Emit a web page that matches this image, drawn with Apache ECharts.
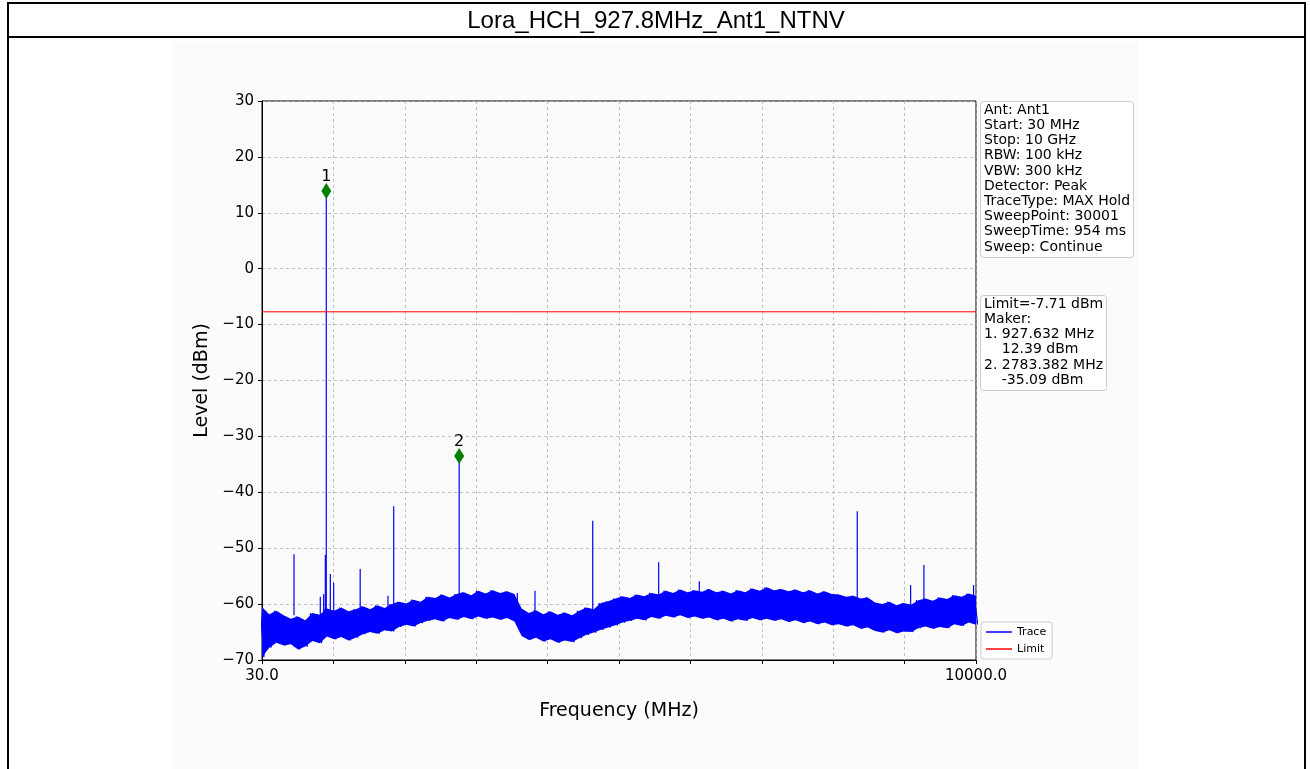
<!DOCTYPE html>
<html>
<head>
<meta charset="utf-8">
<title>Lora_HCH_927.8MHz_Ant1_NTNV</title>
<script src="https://cdn.jsdelivr.net/npm/echarts@6/dist/echarts.min.js"></script>
<style>
    html, body { margin: 0; padding: 0; background: #fff; }
    #main { width: 1310px; height: 769px; }
</style>
</head>
<body>
<div id="main"></div>
<script>
var chartTitle = 'Lora_HCH_927.8MHz_Ant1_NTNV';
var startFreq = 30, stopFreq = 10000;   // MHz
var limitLevel = -7.71;                 // dBm

// noise floor, upper and lower edge of the trace band (dBm), read every ~100 MHz
var bandTop = [
    -60.5, -61.8, -61.2, -62.0, -62.6, -62.2, -62.9, -61.6, -61.9, -60.8,
    -61.2, -60.6, -61.3, -60.9, -60.4, -60.9, -60.2, -60.7, -60.0, -59.6,
    -59.9, -59.2, -59.6, -58.7, -58.9, -58.3, -58.8, -58.2, -57.9, -58.4,
    -57.6, -58.1, -57.5, -58.0, -57.7, -58.2, -60.8, -61.6, -61.1, -61.8,
    -61.3, -61.9, -61.5, -62.0, -61.2, -60.6, -60.9, -59.8, -59.5, -59.0,
    -58.6, -58.9, -58.3, -58.6, -58.0, -58.3, -57.6, -58.0, -57.4, -57.9,
    -57.5, -57.8, -57.3, -57.9, -57.6, -58.1, -57.5, -57.9, -57.2, -57.6,
    -57.0, -57.5, -57.3, -57.7, -57.4, -57.9, -57.5, -58.1, -57.7, -58.2,
    -58.3, -58.7, -58.5, -59.0, -58.8, -59.7, -60.0, -59.6, -60.2, -59.8,
    -60.1, -59.3, -59.0, -59.4, -58.8, -59.1, -58.4, -58.7, -58.1, -58.5
];
var bandBottom = [
    -69.5, -67.8, -66.9, -67.4, -67.2, -68.1, -67.6, -66.6, -67.0, -65.8,
    -66.3, -65.9, -66.5, -66.0, -65.4, -65.0, -65.3, -64.7, -64.9, -64.1,
    -63.7, -64.0, -63.4, -63.0, -62.7, -63.1, -62.5, -62.8, -62.3, -62.7,
    -62.2, -62.6, -62.4, -62.8, -62.5, -63.1, -65.7, -66.4, -66.0, -66.7,
    -66.3, -66.9, -66.5, -66.8, -66.1, -65.5, -65.1, -64.6, -64.2, -63.8,
    -63.3, -63.0, -62.6, -62.9, -62.3, -62.6, -62.1, -62.4, -62.0, -62.5,
    -62.2, -62.6, -62.4, -62.9, -62.6, -63.1, -62.7, -63.0, -62.5, -62.9,
    -62.6, -63.0, -62.7, -63.2, -62.9, -63.4, -63.1, -63.6, -63.3, -63.8,
    -63.6, -64.0, -63.8, -64.4, -64.2, -64.8, -65.1, -64.7, -65.2, -64.9,
    -65.0, -64.3, -64.0, -64.4, -64.1, -64.3, -63.6, -63.9, -63.3, -63.7
];

// narrow spurs sticking out of the floor
var spikeFreqs  = [477, 844, 891, 914, 927.632, 984, 1031, 1401, 1789, 1869, 2783.382, 3595, 3842, 4648, 5569, 6136, 8342, 9087, 9273, 9966];
var spikeLevels = [-51.1, -58.7, -58.2, -51.2, 13.9, -54.6, -56.2, -53.7, -58.5, -42.5, -33.5, -58.0, -57.6, -45.1, -52.5, -55.9, -43.4, -56.6, -53.0, -56.6];
var spikeBase = -62;

var markerNames  = ['1', '2'];
var markerFreqs  = [927.632, 2783.382];
var markerLevels = [13.9, -33.5];

var xTickLabels = { 30: '30.0', 10000: '10000.0' };

var infoLines = [
    'Ant: Ant1', 'Start: 30 MHz', 'Stop: 10 GHz', 'RBW: 100 kHz', 'VBW: 300 kHz',
    'Detector: Peak', 'TraceType: MAX Hold', 'SweepPoint: 30001', 'SweepTime: 954 ms', 'Sweep: Continue'
];
var limitLines = [
    'Limit=-7.71 dBm', 'Maker:', '1. 927.632 MHz', '    12.39 dBm', '2. 2783.382 MHz', '    -35.09 dBm'
];

var myChart = echarts.init(document.getElementById('main'));

// band x positions, spread evenly over the sweep
var step = (stopFreq - startFreq) / (bandTop.length - 1);
var bandFreqs = [], zigzag = [], bandData = [];
for (var i = 0; i < bandTop.length; i++) {
    var f = startFreq + i * step;
    bandFreqs.push(f);
    zigzag.push([f - step / 4, bandTop[i]]);
    zigzag.push([f + step / 4, bandBottom[i]]);
    bandData.push([f, bandTop[i], bandBottom[i]]);
}

var spikeData = [];
for (var j = 0; j < spikeFreqs.length; j++) {
    spikeData.push([spikeFreqs[j], spikeLevels[j]]);
}

var markerData = [];
for (var k = 0; k < markerFreqs.length; k++) {
    markerData.push({ name: markerNames[k], value: [markerFreqs[k], markerLevels[k]] });
}

var font = 'DejaVu Sans';
var gridStyle = { color: '#b0b0b0', type: [3, 3], width: 0.8 };

option = {
    animation: false,
    backgroundColor: '#fff',
    grid: { left: 262, right: 334, top: 101, bottom: 109, show: true, borderColor: '#000', borderWidth: 1 },
    xAxis: {
        type: 'value', min: startFreq, max: stopFreq, interval: 997,
        name: 'Frequency (MHz)', nameLocation: 'middle', nameGap: 42,
        nameTextStyle: { fontFamily: font, fontSize: 19, color: '#000' },
        axisLine: { onZero: false, lineStyle: { color: '#000', width: 1 } },
        axisTick: { length: 4, lineStyle: { color: '#000' } },
        axisLabel: {
            color: '#000', fontFamily: font, fontSize: 15, margin: 9,
            showMinLabel: true, showMaxLabel: true,
            formatter: function (v) { return xTickLabels[Math.round(v)] || ''; }
        },
        splitLine: { show: true, lineStyle: gridStyle }
    },
    yAxis: {
        type: 'value', min: -70, max: 30, interval: 10,
        name: 'Level (dBm)', nameLocation: 'middle', nameGap: 48,
        nameTextStyle: { fontFamily: font, fontSize: 19, color: '#000' },
        axisLine: { show: true, onZero: false, lineStyle: { color: '#000', width: 1 } },
        axisTick: { show: true, length: 4, lineStyle: { color: '#000' } },
        axisLabel: {
            color: '#000', fontFamily: font, fontSize: 15, margin: 8,
            formatter: function (v) { return v < 0 ? '\u2212' + (-v) : String(v); }
        },
        splitLine: { show: true, lineStyle: gridStyle }
    },
    legend: {
        data: ['Trace', 'Limit'],
        orient: 'vertical', left: 981, top: 622,
        icon: 'rect', itemWidth: 26, itemHeight: 1.5, itemGap: 5,
        padding: [4, 6, 4, 5],
        backgroundColor: '#fff', borderColor: '#cccccc', borderWidth: 1, borderRadius: 3,
        textStyle: { fontFamily: font, fontSize: 11, color: '#000', lineHeight: 12 }
    },
    graphic: [
        { type: 'rect', z: -10, silent: true, shape: { x: 172, y: 42, width: 966, height: 740 }, style: { fill: '#fbfbfb' } },
        { type: 'rect', z: 100, silent: true, shape: { x: 8, y: 3, width: 1297, height: 800 }, style: { fill: 'none', stroke: '#000', lineWidth: 2 } },
        { type: 'line', z: 100, silent: true, shape: { x1: 8, y1: 37, x2: 1305, y2: 37 }, style: { stroke: '#000', lineWidth: 2 } },
        { type: 'text', z: 100, x: 656, y: 21, style: { text: chartTitle, font: '24px "Liberation Sans", Arial, sans-serif', fill: '#000', align: 'center', verticalAlign: 'middle' } },
        { type: 'rect', z: 100, shape: { x: 980.5, y: 101.5, width: 153, height: 156, r: 3 }, style: { fill: '#fff', stroke: '#cccccc', lineWidth: 1 } },
        { type: 'text', z: 101, x: 984, y: 102.5, style: { text: infoLines.join('\n'), font: '14px "DejaVu Sans"', lineHeight: 15.2, fill: '#000', verticalAlign: 'top' } },
        { type: 'rect', z: 100, shape: { x: 980.5, y: 295.5, width: 126, height: 95, r: 3 }, style: { fill: '#fff', stroke: '#cccccc', lineWidth: 1 } },
        { type: 'text', z: 101, x: 984, y: 296.5, style: { text: limitLines.join('\n'), font: '14px "DejaVu Sans"', lineHeight: 15.2, fill: '#000', verticalAlign: 'top' } }
    ],
    series: [
        {
            // solid core of the noise band, between the top and bottom edges
            name: 'band', type: 'custom', data: bandData, silent: true,
            renderItem: function (params, api) {
                if (params.dataIndex !== 0) return null;
                var pts = [];
                for (var a = 0; a < bandFreqs.length; a++) pts.push(api.coord([bandFreqs[a], bandTop[a]]));
                for (var b = bandFreqs.length - 1; b >= 0; b--) pts.push(api.coord([bandFreqs[b], bandBottom[b]]));
                return { type: 'polygon', shape: { points: pts }, style: { fill: '#0000ff' } };
            }
        },
        {
            name: 'Trace', type: 'line', data: zigzag,
            symbol: 'none', color: '#0000ff',
            lineStyle: { color: '#0000ff', width: 1.2 }
        },
        {
            name: 'spurs', type: 'custom', data: spikeData, silent: true,
            renderItem: function (params, api) {
                var top = api.coord([api.value(0), api.value(1)]);
                var bottom = api.coord([api.value(0), spikeBase]);
                return {
                    type: 'line',
                    shape: { x1: top[0], y1: top[1], x2: bottom[0], y2: bottom[1] },
                    style: { stroke: '#0000ff', lineWidth: 1.2 }
                };
            }
        },
        {
            name: 'Limit', type: 'line', data: [[startFreq, limitLevel], [stopFreq, limitLevel]],
            symbol: 'none', color: '#ff0000',
            lineStyle: { color: '#ff0000', width: 1 }
        },
        {
            name: 'Markers', type: 'scatter', data: markerData,
            symbol: 'diamond', symbolSize: [10, 16],
            itemStyle: { color: '#008000', opacity: 1 }, z: 5,
            label: { show: true, position: 'top', distance: -2, formatter: '{b}', fontFamily: font, fontSize: 16, color: '#000' }
        }
    ]
};
myChart.setOption(option);
</script>
</body>
</html>
